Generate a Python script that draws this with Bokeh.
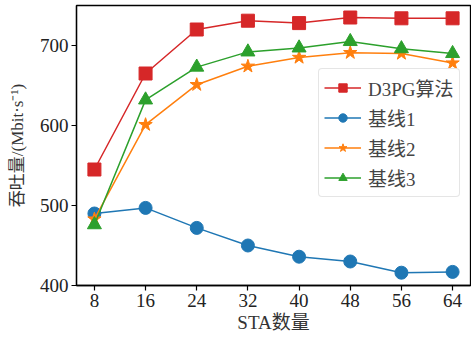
from bokeh.plotting import figure
from bokeh.models import Range1d, FixedTicker, Legend, LegendItem
from bokeh.embed import file_html
from bokeh.resources import INLINE

sta = [8, 16, 24, 32, 40, 48, 56, 64]
d3pg = [545, 665, 720, 731, 728, 735, 734, 734]
base1 = [490, 497, 472, 450, 436, 430, 416, 417]
base2 = [483, 601, 651, 674, 685, 691, 690, 678]
base3 = [476, 632, 673, 692, 697, 705, 696, 690]
series_names = ["D3PG算法", "基线1", "基线2", "基线3"]
y_ticks = [400, 500, 600, 700]

FONT = "Liberation Serif, Noto Sans CJK SC"

p = figure(width=471, height=340, output_backend="svg", toolbar_location=None,
           x_range=Range1d(5.2, 66.8), y_range=Range1d(400, 750),
           min_border_left=76, min_border_right=1, min_border_top=5, min_border_bottom=55)

p.xgrid.visible = False
p.ygrid.visible = False
p.outline_line_color = "black"
p.outline_line_width = 1.3
p.outline_line_alpha = 1

colors = ["#d62728", "#1f77b4", "#ff7f0e", "#2ca02c"]
markers = ["square", "circle", "star", "triangle"]
sizes = [13, 13, 14, 14]
data = [d3pg, base1, base2, base3]

items = []
for name, ys, c, m, s in zip(series_names, data, colors, markers, sizes):
    r1 = p.line(sta, ys, line_color=c, line_width=1.5)
    r2 = p.scatter(sta, ys, marker=m, size=s, fill_color=c, line_color=c, line_width=1)
    items.append(LegendItem(label=name, renderers=[r1, r2]))

legend = Legend(items=items, location=(242, 88))
legend.label_text_font = FONT
legend.label_text_font_size = "19px"
legend.label_height = 21
legend.glyph_height = 21
legend.glyph_width = 37
legend.label_standoff = 7
legend.spacing = 3
legend.padding = 5
legend.margin = 0
legend.border_line_color = "#cccccc"
legend.border_line_width = 1
legend.border_radius = 4
legend.background_fill_alpha = 0.9
p.add_layout(legend, "center")

for ax in [p.xaxis[0], p.yaxis[0]]:
    ax.axis_line_color = "black"
    ax.axis_line_width = 1.3
    ax.major_tick_line_color = "black"
    ax.major_tick_line_width = 1.2
    ax.major_tick_out = 5
    ax.major_tick_in = 0
    ax.minor_tick_line_color = None
    ax.major_label_text_font = FONT
    ax.major_label_text_font_size = "19px"
    ax.major_label_text_color = "#222222"
    ax.major_label_standoff = 3
    ax.axis_label_text_font = FONT
    ax.axis_label_text_font_size = "19px"
    ax.axis_label_text_font_style = "normal"
    ax.axis_label_text_color = "#333333"

p.xaxis[0].ticker = FixedTicker(ticks=sta)
p.yaxis[0].ticker = FixedTicker(ticks=y_ticks)
p.xaxis[0].axis_label = "STA数量"
p.yaxis[0].axis_label = "吞吐量/(Mbit·s⁻¹)"
p.yaxis[0].axis_label_text_font_size = "17px"
p.xaxis[0].axis_label_standoff = 2
p.yaxis[0].axis_label_standoff = 10

open("out.html", "w").write(file_html(p, INLINE))
